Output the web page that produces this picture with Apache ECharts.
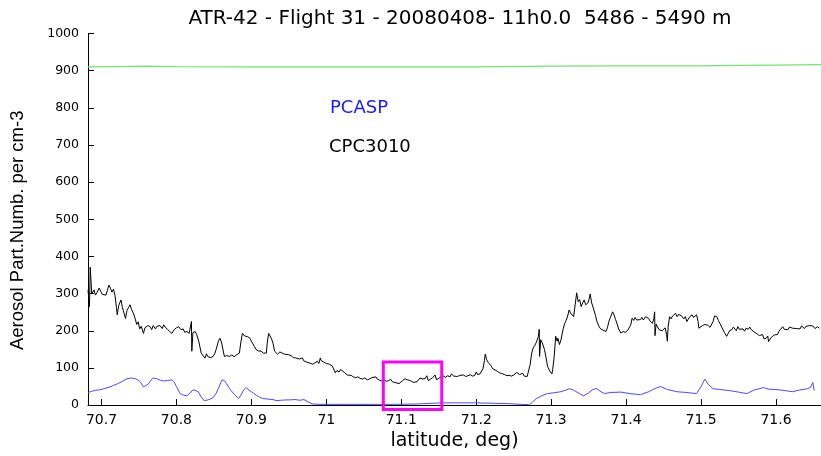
<!DOCTYPE html>
<html>
<head>
<meta charset="utf-8">
<script src="https://cdn.jsdelivr.net/npm/echarts@6/dist/echarts.min.js"></script>
<style>
  html, body { margin: 0; padding: 0; background: #fff; }
  #chart { width: 821px; height: 456px; }
</style>
</head>
<body>
<div id="chart"></div>
<script>
// Flight 31 leg at 5486-5490 m: particle number concentrations against latitude

const titleText = 'ATR-42 - Flight 31 - 20080408- 11h0.0  5486 - 5490 m';
const xTicks = [70.7, 70.8, 70.9, 71.0, 71.1, 71.2, 71.3, 71.4, 71.5, 71.6];
const yTicks = [0, 100, 200, 300, 400, 500, 600, 700, 800, 900, 1000];

// CPC3010 condensation particle counter [latitude, cm-3]
const cpcPoints = [
  [70.682,310],[70.684,265],[70.685,371],[70.687,300],[70.690,310],[70.692,296],[70.694,303],[70.697,315],
  [70.699,306],[70.701,298],[70.703,302],[70.706,296],[70.708,310],[70.710,323],[70.712,314],[70.714,304],
  [70.716,312],[70.718,296],[70.720,262],[70.721,243],[70.723,268],[70.726,283],[70.728,262],[70.730,248],
  [70.732,233],[70.734,255],[70.736,262],[70.738,270],[70.740,258],[70.743,245],[70.745,232],[70.747,217],
  [70.749,224],[70.751,205],[70.753,212],[70.756,193],[70.758,208],[70.760,205],[70.762,214],[70.765,211],
  [70.767,203],[70.769,214],[70.772,205],[70.774,212],[70.776,207],[70.778,214],[70.781,206],[70.783,216],
  [70.785,210],[70.788,204],[70.791,198],[70.794,193],[70.797,203],[70.800,208],[70.803,211],[70.806,203],
  [70.809,205],[70.811,196],[70.814,198],[70.817,193],[70.819,190],[70.820,225],[70.8205,145],[70.822,195],
  [70.825,198],[70.827,190],[70.830,170],[70.833,140],[70.836,132],[70.838,126],[70.840,138],[70.842,130],
  [70.844,135],[70.846,128],[70.849,131],[70.851,138],[70.853,150],[70.856,172],[70.858,180],[70.860,170],
  [70.861,165],[70.863,140],[70.864,131],[70.867,133],[70.869,129],[70.871,131],[70.874,135],[70.877,130],
  [70.880,135],[70.882,138],[70.884,140],[70.886,170],[70.888,193],[70.889,198],[70.891,186],[70.893,190],
  [70.895,184],[70.898,180],[70.900,172],[70.902,165],[70.904,158],[70.906,150],[70.909,146],[70.911,142],
  [70.913,145],[70.916,140],[70.918,136],[70.920,140],[70.921,165],[70.923,193],[70.925,195],[70.927,178],
  [70.929,165],[70.931,145],[70.933,140],[70.935,137],[70.938,143],[70.941,140],[70.944,137],[70.946,140],
  [70.949,136],[70.951,133],[70.953,133],[70.956,128],[70.959,127],[70.961,131],[70.964,124],[70.966,122],
  [70.968,127],[70.970,119],[70.973,116],[70.975,121],[70.978,113],[70.980,116],[70.982,110],[70.985,114],
  [70.988,118],[70.990,112],[70.992,127],[70.993,120],[70.995,122],[70.997,115],[71.000,112],[71.002,116],
  [71.004,110],[71.006,111],[71.008,105],[71.010,100],[71.012,87],[71.014,93],[71.017,89],[71.019,96],
  [71.021,92],[71.024,88],[71.026,84],[71.028,81],[71.030,78],[71.033,80],[71.036,76],[71.039,74],
  [71.042,76],[71.045,72],[71.048,70],[71.051,73],[71.053,68],[71.055,68],[71.058,71],[71.061,74],
  [71.063,70],[71.066,76],[71.068,70],[71.071,67],[71.074,65],[71.077,68],[71.080,64],[71.083,66],
  [71.086,69],[71.088,63],[71.090,62],[71.093,60],[71.097,58],[71.099,62],[71.102,66],[71.105,71],
  [71.108,68],[71.110,64],[71.112,66],[71.114,62],[71.116,61],[71.118,64],[71.121,63],[71.123,66],
  [71.125,73],[71.127,78],[71.129,70],[71.132,72],[71.134,79],[71.136,66],[71.139,70],[71.142,74],
  [71.144,70],[71.145,81],[71.147,68],[71.150,72],[71.153,76],[71.156,78],[71.159,75],[71.162,79],
  [71.165,76],[71.167,84],[71.170,78],[71.172,80],[71.175,77],[71.178,80],[71.180,76],[71.183,81],
  [71.186,77],[71.189,79],[71.192,82],[71.195,78],[71.198,80],[71.200,89],[71.202,82],[71.205,84],
  [71.207,86],[71.209,98],[71.211,120],[71.212,137],[71.214,122],[71.216,115],[71.218,110],[71.220,105],
  [71.222,98],[71.225,95],[71.228,91],[71.231,87],[71.234,85],[71.236,82],[71.238,82],[71.241,79],
  [71.244,80],[71.247,78],[71.250,81],[71.252,79],[71.254,88],[71.256,92],[71.258,82],[71.260,80],
  [71.262,86],[71.264,78],[71.266,80],[71.268,77],[71.270,78],[71.272,110],[71.274,140],[71.276,154],
  [71.278,160],[71.280,168],[71.282,172],[71.283,185],[71.284,204],[71.2845,131],[71.286,176],[71.288,168],
  [71.289,163],[71.291,150],[71.292,140],[71.294,118],[71.295,105],[71.298,92],[71.301,84],[71.302,96],
  [71.304,130],[71.306,185],[71.308,172],[71.309,180],[71.311,163],[71.313,175],[71.316,205],[71.318,220],
  [71.320,228],[71.322,240],[71.324,256],[71.326,247],[71.328,252],[71.330,238],[71.332,270],[71.334,302],
  [71.336,278],[71.338,284],[71.340,265],[71.342,275],[71.344,283],[71.346,270],[71.349,275],[71.351,288],
  [71.352,299],[71.354,275],[71.357,256],[71.359,242],[71.361,225],[71.364,211],[71.366,205],[71.369,202],
  [71.371,197],[71.373,198],[71.375,208],[71.377,225],[71.379,236],[71.382,251],[71.384,242],[71.386,230],
  [71.388,218],[71.390,205],[71.393,194],[71.396,198],[71.399,196],[71.402,201],[71.404,203],[71.406,215],
  [71.408,234],[71.410,228],[71.412,236],[71.414,229],[71.416,233],[71.419,230],[71.421,236],[71.423,229],
  [71.426,238],[71.428,241],[71.430,233],[71.432,226],[71.435,220],[71.437,232],[71.438,251],[71.4385,187],
  [71.440,218],[71.442,210],[71.444,203],[71.446,207],[71.448,200],[71.450,195],[71.452,208],[71.454,190],
  [71.455,172],[71.456,210],[71.458,238],[71.460,232],[71.462,240],[71.464,236],[71.466,247],[71.468,238],
  [71.470,244],[71.472,247],[71.474,240],[71.477,232],[71.479,238],[71.481,225],[71.483,230],[71.485,238],
  [71.488,243],[71.490,236],[71.492,241],[71.494,243],[71.496,225],[71.497,207],[71.499,210],[71.502,214],
  [71.505,217],[71.507,212],[71.509,215],[71.512,209],[71.514,211],[71.516,225],[71.518,240],[71.519,243],
  [71.521,238],[71.523,228],[71.525,220],[71.528,208],[71.531,196],[71.534,185],[71.536,192],[71.538,200],
  [71.541,203],[71.543,210],[71.545,207],[71.547,200],[71.549,211],[71.551,204],[71.553,208],[71.556,205],
  [71.558,199],[71.560,207],[71.563,204],[71.565,210],[71.567,203],[71.569,198],[71.572,195],[71.575,191],
  [71.578,187],[71.580,182],[71.582,190],[71.584,178],[71.587,180],[71.589,186],[71.590,171],[71.592,166],
  [71.594,183],[71.596,178],[71.598,189],[71.600,194],[71.602,190],[71.604,199],[71.606,203],[71.609,211],
  [71.611,204],[71.613,207],[71.616,203],[71.618,210],[71.620,205],[71.622,207],[71.624,212],[71.627,206],
  [71.629,210],[71.632,205],[71.634,213],[71.636,211],[71.638,206],[71.640,212],[71.642,208],[71.645,214],
  [71.647,209],[71.649,213],[71.652,206],[71.655,211],[71.658,207]
];

// PCASP optical probe [latitude, cm-3]
const pcaspPoints = [
  [70.682,34],[70.687,37],[70.692,40],[70.697,41],[70.703,44],[70.710,48],[70.716,53],[70.721,57],
  [70.727,63],[70.734,71],[70.740,73],[70.745,71],[70.749,67],[70.752,62],[70.756,49],[70.759,52],
  [70.763,58],[70.766,67],[70.769,73],[70.775,70],[70.779,67],[70.783,65],[70.788,66],[70.794,68],
  [70.797,62],[70.800,50],[70.803,38],[70.805,31],[70.809,27],[70.814,25],[70.818,32],[70.822,41],
  [70.826,39],[70.829,36],[70.833,22],[70.837,12],[70.842,14],[70.846,17],[70.849,20],[70.853,32],
  [70.856,45],[70.859,60],[70.861,68],[70.864,66],[70.867,58],[70.870,47],[70.873,39],[70.878,27],
  [70.883,18],[70.887,30],[70.890,42],[70.893,47],[70.897,40],[70.902,33],[70.907,26],[70.911,21],
  [70.915,18],[70.922,16],[70.929,15],[70.933,12],[70.940,13],[70.946,14],[70.951,14],[70.958,15],
  [70.965,13],[70.970,15],[70.973,12],[70.977,7],[70.982,3],[70.990,2],[71.004,2],[71.030,2],
  [71.060,2],[71.090,2],[71.120,3],[71.154,6],[71.170,6],[71.198,6],[71.220,5],[71.242,4],
  [71.260,2],[71.271,1],[71.275,8],[71.280,17],[71.287,25],[71.295,31],[71.303,33],[71.313,36],
  [71.319,40],[71.324,44],[71.328,42],[71.331,39],[71.336,33],[71.343,25],[71.350,33],[71.355,41],
  [71.360,45],[71.365,38],[71.371,31],[71.380,34],[71.393,35],[71.405,31],[71.419,28],[71.430,36],
  [71.440,46],[71.446,50],[71.455,42],[71.468,36],[71.480,34],[71.494,31],[71.500,50],[71.505,70],
  [71.510,55],[71.516,44],[71.525,42],[71.538,39],[71.550,35],[71.561,31],[71.570,40],[71.583,47],
  [71.590,43],[71.605,41],[71.615,38],[71.622,36],[71.630,40],[71.642,44],[71.646,48],[71.649,61],
  [71.651,39]
];

// upper trace near 910 cm-3 [latitude, cm-3]
const upperPoints = [
  [70.682,910],[70.720,911],[70.760,912],[70.800,911],[70.900,910],[71.000,910],[71.100,910],
  [71.200,910],[71.300,912],[71.400,913],[71.500,913],[71.550,914],[71.600,915],[71.660,916]
];

// highlighted latitude window [from, to] and value span [bottom, top]
const boxLat = [71.076, 71.154];
const boxVal = [-12, 116];

const chart = echarts.init(document.getElementById('chart'), null, { renderer: 'canvas' });

const tickFont = 'DejaVu Sans';

chart.setOption({
  animation: false,
  backgroundColor: '#ffffff',
  title: {
    text: titleText,
    left: 455,
    top: 4,
    textAlign: 'center',
    textStyle: { fontFamily: tickFont, fontSize: 20, fontWeight: 'normal', color: '#000' }
  },
  grid: { left: 84, right: 0, top: 33.5, bottom: 46.5, containLabel: false },
  xAxis: {
    type: 'value',
    min: 70.682,
    max: 71.66,
    name: 'latitude, deg)',
    nameLocation: 'middle',
    nameGap: 22,
    nameTextStyle: { fontFamily: tickFont, fontSize: 19, color: '#000' },
    axisLine: { show: true, onZero: false, lineStyle: { color: '#000', width: 1 } },
    axisTick: { show: true, inside: true, length: 6, customValues: xTicks, lineStyle: { color: '#000' } },
    axisLabel: {
      customValues: xTicks,
      margin: 8,
      fontFamily: tickFont,
      fontSize: 14,
      color: '#000',
      formatter: v => String(parseFloat(v.toFixed(1)))
    },
    splitLine: { show: false }
  },
  yAxis: {
    type: 'value',
    min: yTicks[0],
    max: yTicks[yTicks.length - 1],
    interval: 100,
    name: 'Aerosol Part.Numb. per cm-3',
    nameLocation: 'middle',
    nameRotate: 90,
    nameGap: 61,
    nameTextStyle: { fontFamily: 'Liberation Sans', fontSize: 18.5, color: '#000', padding: [0, 22, 0, 0] },
    axisLine: { show: true, lineStyle: { color: '#000', width: 1 } },
    axisTick: { show: true, inside: true, length: 6, lineStyle: { color: '#000' } },
    axisLabel: { margin: 9, fontFamily: tickFont, fontSize: 12.5, color: '#000', formatter: v => String(v) },
    splitLine: { show: false }
  },
  graphic: [
    { id: 'lblPcasp', type: 'text', left: 330, top: 99, style: { text: 'PCASP', fill: '#1a1aff', font: '18px "DejaVu Sans"' } },
    { id: 'lblCpc', type: 'text', left: 329, top: 138, style: { text: 'CPC3010', fill: '#000000', font: '18px "DejaVu Sans"' } }
  ],
  series: [
    {
      name: 'upper trace',
      type: 'line',
      data: upperPoints,
      showSymbol: false,
      lineStyle: { color: '#6ee86e', width: 1.2 },
      z: 2
    },
    {
      name: 'PCASP',
      type: 'line',
      data: pcaspPoints,
      showSymbol: false,
      lineStyle: { color: '#4a4aff', width: 1 },
      z: 3
    },
    {
      name: 'CPC3010',
      type: 'line',
      data: cpcPoints,
      showSymbol: false,
      lineStyle: { color: '#000000', width: 1 },
      z: 4
    }
  ]
});

// outline of the highlighted window, placed through the grid's own scales
const corner1 = chart.convertToPixel({ gridIndex: 0 }, [boxLat[0], boxVal[1]]);
const corner2 = chart.convertToPixel({ gridIndex: 0 }, [boxLat[1], boxVal[0]]);
chart.setOption({
  graphic: [{
    id: 'window',
    type: 'rect',
    z: 100,
    shape: {
      x: corner1[0],
      y: corner1[1],
      width: corner2[0] - corner1[0],
      height: corner2[1] - corner1[1]
    },
    style: { fill: 'none', stroke: '#ff00ff', lineWidth: 3 }
  }]
});
</script>
</body>
</html>
